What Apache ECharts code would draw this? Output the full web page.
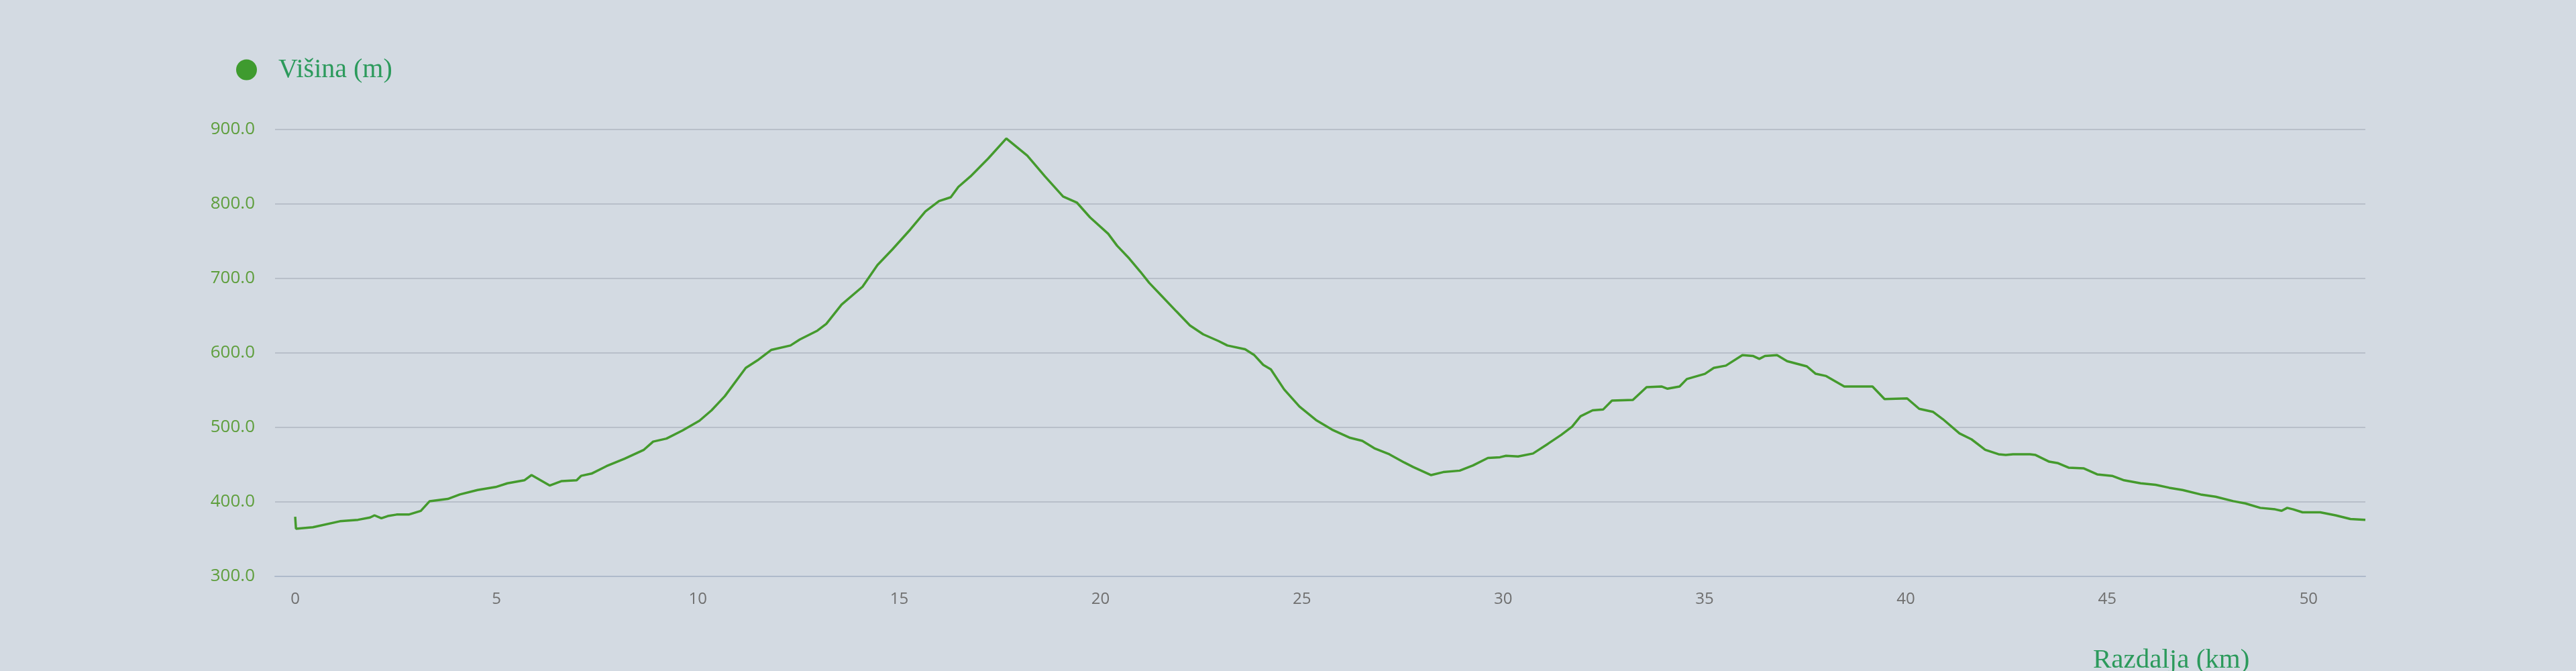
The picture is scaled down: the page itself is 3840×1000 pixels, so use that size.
<!DOCTYPE html>
<html>
<head>
<meta charset="utf-8">
<title>Višina</title>
<script src="https://cdn.jsdelivr.net/npm/echarts@6/dist/echarts.min.js"></script>
<style>
  html, body { margin: 0; padding: 0; background: #d3dae2; }
  #chart { width: 3840px; height: 1000px; }
</style>
</head>
<body>
<div id="chart"></div>
<script>
// Distance along the route (km)
const distances = [
  0.00, 0.02, 0.44, 1.11, 1.56, 1.86, 1.97, 2.14, 2.30, 2.52, 2.82, 3.12, 3.34, 3.79, 4.09, 4.53, 4.98,
  5.27, 5.69, 5.87, 6.32, 6.62, 6.99, 7.10, 7.36, 7.73, 8.18, 8.66, 8.89, 9.22, 9.62, 10.04, 10.34,
  10.67, 11.19, 11.48, 11.82, 12.30, 12.53, 12.97, 13.19, 13.57, 14.09, 14.46, 14.83, 15.28, 15.65,
  15.99, 16.28, 16.47, 16.77, 17.21, 17.66, 18.18, 18.62, 19.07, 19.41, 19.74, 20.19, 20.41, 20.71,
  20.99, 21.21, 21.51, 21.88, 22.22, 22.55, 22.93, 23.15, 23.59, 23.82, 24.04, 24.23, 24.56, 24.94,
  25.35, 25.75, 26.20, 26.50, 26.80, 27.17, 27.54, 27.76, 28.21, 28.51, 28.92, 29.25, 29.62, 29.92,
  30.07, 30.37, 30.74, 31.11, 31.44, 31.71, 31.92, 32.22, 32.48, 32.70, 33.22, 33.56, 33.93, 34.08,
  34.38, 34.56, 35.01, 35.23, 35.53, 35.94, 36.20, 36.36, 36.50, 36.80, 37.05, 37.54, 37.76, 38.02,
  38.47, 39.17, 39.47, 40.03, 40.33, 40.67, 40.92, 41.33, 41.63, 41.97, 42.30, 42.48, 42.66, 43.08,
  43.22, 43.56, 43.78, 44.04, 44.42, 44.75, 45.12, 45.42, 45.83, 46.20, 46.54, 46.87, 47.32, 47.69,
  48.13, 48.43, 48.80, 49.17, 49.33, 49.47, 49.62, 49.85, 50.29, 50.67, 51.04, 51.41
];
// Elevation (m)
const elevations = [
  380, 364, 366, 374, 376, 379, 382, 378, 381, 383, 383, 388, 401, 404, 410, 416, 420,
  425, 429, 436, 422, 428, 429, 435, 438, 448, 458, 470, 481, 485, 496, 509, 523,
  542, 580, 590, 604, 610, 618, 630, 639, 665, 689, 718, 739, 766, 790,
  804, 809, 823, 837, 861, 888, 865, 837, 810, 802, 782, 760, 744, 727,
  709, 694, 677, 656, 637, 625, 616, 610, 605, 597, 584, 578, 551, 528,
  510, 497, 486, 482, 472, 464, 453, 447, 436, 440, 442, 449, 459, 460,
  462, 461, 465, 478, 490, 501, 515, 523, 524, 536, 537, 554, 555, 552,
  555, 565, 572, 580, 583, 597, 596, 592, 596, 597, 589, 582, 572, 569,
  555, 555, 538, 539, 525, 521, 511, 492, 484, 470, 464, 463, 464, 464,
  463, 454, 452, 446, 445, 437, 435, 429, 425, 423, 419, 416, 410, 407,
  401, 398, 392, 390, 388, 392, 390, 386, 386, 382, 377, 376
];
// Tick labels
const xTicks = [0, 5, 10, 15, 20, 25, 30, 35, 40, 45, 50];
const yTicks = [300, 400, 500, 600, 700, 800, 900];

const seriesName = 'Višina (m)';
const xAxisTitle = 'Razdalja (km)';

const points = distances.map((d, i) => [d, elevations[i]]);

const chart = echarts.init(document.getElementById('chart'), null, { renderer: 'canvas' });
chart.setOption({
  backgroundColor: '#d3dae2',
  animation: false,
  legend: {
    left: 352,
    top: 84,
    padding: 0,
    icon: 'circle',
    itemWidth: 31,
    itemHeight: 31,
    itemStyle: { color: '#3f9b2f' },
    textStyle: {
      fontFamily: '"Liberation Serif", "DejaVu Serif", serif',
      fontSize: 40,
      color: '#2c9a5c',
      padding: [0, 0, 22, 27]
    },
    data: [seriesName]
  },
  grid: { left: 410, right: 314, top: 193, bottom: 141, containLabel: false },
  xAxis: {
    type: 'value',
    min: -0.5,
    max: 51.41,
    axisLine: { show: true, lineStyle: { color: '#aebacb', width: 2 } },
    axisTick: { show: false },
    splitLine: { show: false },
    axisLabel: {
      customValues: xTicks,
      margin: 22,
      color: '#6f6f6f',
      fontFamily: '"Open Sans", sans-serif',
      fontSize: 24
    }
  },
  yAxis: {
    type: 'value',
    min: 300,
    max: 900,
    interval: 100,
    axisLine: { show: false },
    axisTick: { show: false },
    splitLine: { show: true, lineStyle: { color: '#b8bfc9', width: 2 } },
    axisLabel: {
      customValues: yTicks,
      margin: 30,
      color: '#5e9e3c',
      fontFamily: '"Open Sans", sans-serif',
      fontSize: 26,
      formatter: v => v.toFixed(1)
    }
  },
  graphic: [{
    type: 'text',
    left: 3120,
    top: 964,
    style: {
      text: xAxisTitle,
      fill: '#2c9a5c',
      font: '41px "Liberation Serif", "DejaVu Serif", serif'
    }
  }],
  series: [{
    name: seriesName,
    type: 'line',
    data: points,
    showSymbol: false,
    symbol: 'circle',
    lineStyle: { color: '#449a2d', width: 3.5 },
    itemStyle: { color: '#3f9b2f' }
  }]
});
</script>
</body>
</html>
